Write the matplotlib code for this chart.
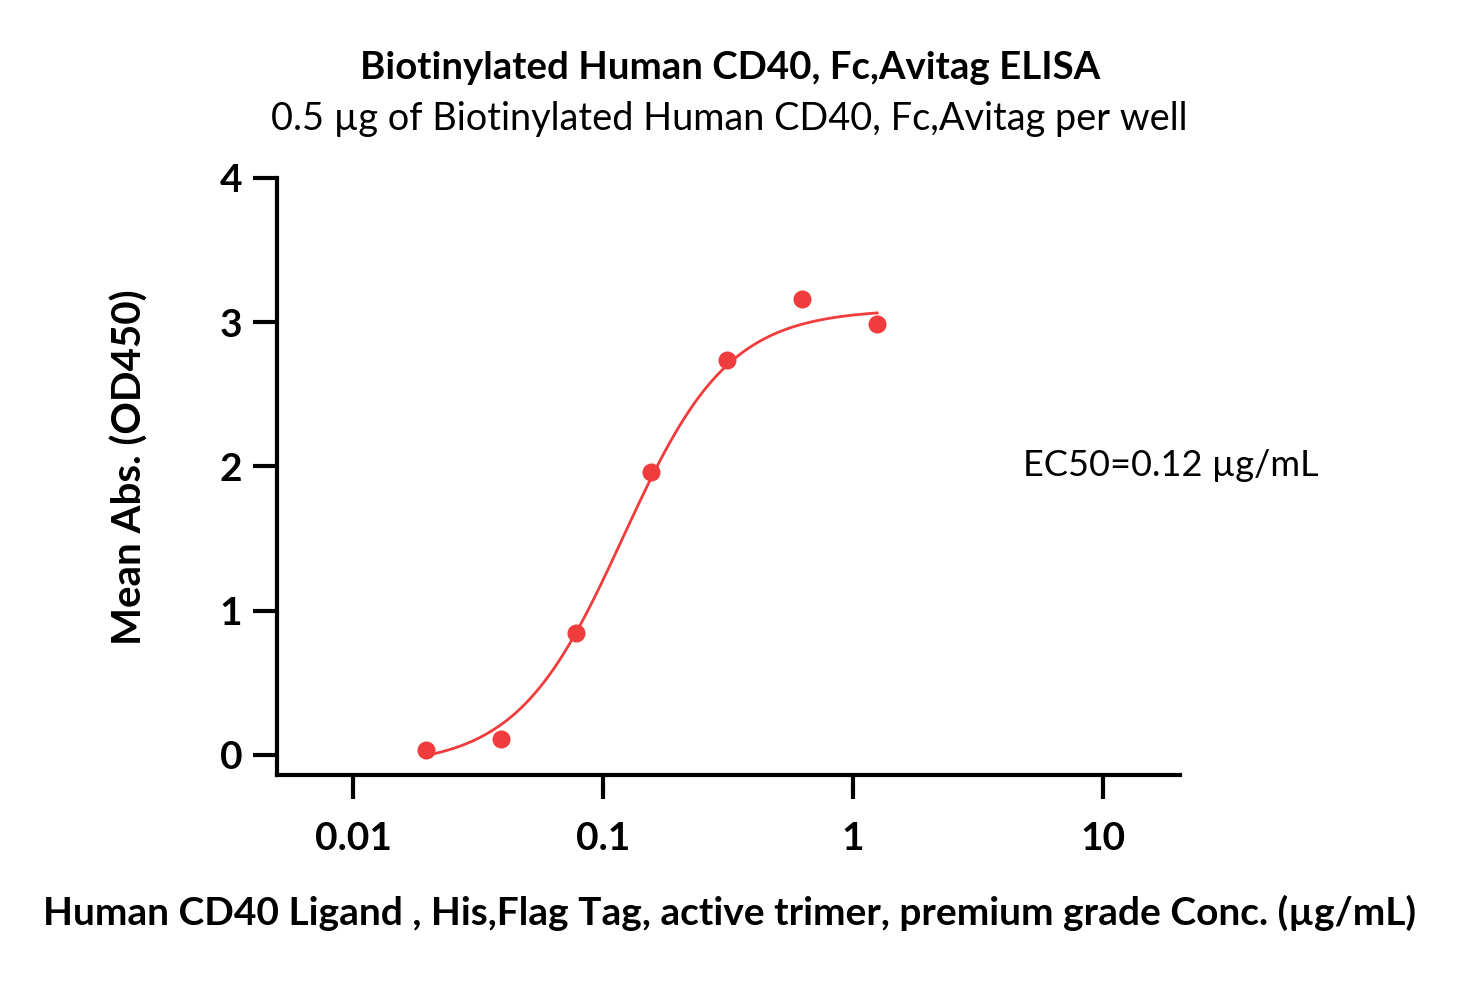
import numpy as np
import matplotlib
matplotlib.use("Agg")
import matplotlib.pyplot as plt
from matplotlib.ticker import FixedLocator, NullLocator

plt.rcParams['font.family'] = ['Lato', 'DejaVu Sans']

# Data
conc = [0.0195, 0.039, 0.078, 0.156, 0.3125, 0.625, 1.25]
od450 = [0.03, 0.11, 0.845, 1.96, 2.74, 3.16, 2.99]

# 4PL fit parameters (estimated from the drawn curve)
fit_bottom = -0.08
fit_top = 3.09
fit_ec50 = 0.12
fit_hill = 2.05

x_ticks = [0.01, 0.1, 1, 10]
x_tick_labels = ["0.01", "0.1", "1", "10"]
y_ticks = [0, 1, 2, 3, 4]

title = "Biotinylated Human CD40, Fc,Avitag ELISA"
subtitle = "0.5 \u00b5g of Biotinylated Human CD40, Fc,Avitag per well"
xlabel = "Human CD40 Ligand , His,Flag Tag, active trimer, premium grade Conc. (\u00b5g/mL)"
ylabel = "Mean Abs. (OD450)"
ec50_text = "EC50=0.12 \u00b5g/mL"

red = '#f03c3c'

W, H = 1461, 981
fig = plt.figure(figsize=(W / 100, H / 100), dpi=100)
ax = fig.add_axes([277 / W, 1 - 775 / H, (1180 - 277) / W, (775 - 178) / H])

xc = np.logspace(np.log10(conc[0]), np.log10(conc[-1]), 300)
yc = fit_bottom + (fit_top - fit_bottom) / (1 + (fit_ec50 / xc) ** fit_hill)
ax.plot(xc, yc, color=red, lw=2.0, zorder=2)
ax.plot(conc, od450, 'o', color=red, ms=13, mec='none', zorder=3, clip_on=False)

ax.set_xscale('log')
ax.set_xlim(10 ** (-2 - 76 / 250), 10 ** (1 + 77 / 250))
ax.set_ylim(-0.14, 4.0)
ax.xaxis.set_major_locator(FixedLocator(x_ticks))
ax.xaxis.set_minor_locator(NullLocator())
ax.set_xticklabels(x_tick_labels)
ax.yaxis.set_major_locator(FixedLocator(y_ticks))
ax.yaxis.set_minor_locator(NullLocator())

for s in ['top', 'right']:
    ax.spines[s].set_visible(False)
for s in ['left', 'bottom']:
    ax.spines[s].set_linewidth(3)
ax.tick_params(axis='both', width=3, length=17, labelsize=28, pad=8)
ax.tick_params(axis='x', pad=16)
for lab in ax.get_xticklabels() + ax.get_yticklabels():
    lab.set_fontweight('bold')

fig.text(730 / W, 1 - 68 / H, title, ha='center', va='center', fontsize=27.6, fontweight='bold')
fig.text(729 / W, 1 - 119 / H, subtitle, ha='center', va='center', fontsize=27.3)
fig.text(730 / W, 1 - 913 / H, xlabel, ha='center', va='center', fontsize=28, fontweight='bold')
fig.text(130 / W, 1 - 467 / H, ylabel, ha='center', va='center', fontsize=29, fontweight='bold', rotation=90)
fig.text(1023 / W, 1 - 466 / H, ec50_text, ha='left', va='center', fontsize=26)

fig.savefig('out.png', dpi=100, facecolor='white')
